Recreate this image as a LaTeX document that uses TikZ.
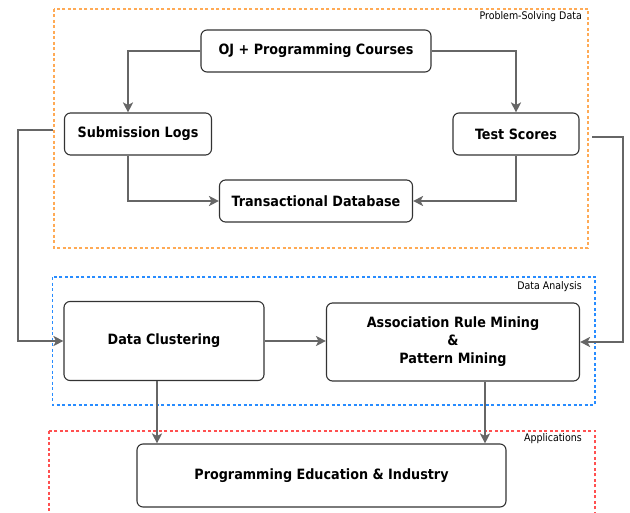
\documentclass[tikz,border=0pt]{standalone}
\usepackage{fontspec}
\setmainfont{DejaVu Sans Condensed}
\usetikzlibrary{arrows.meta,calc}
\definecolor{psdorange}{RGB}{255,170,85}
\definecolor{dablue}{RGB}{40,140,255}
\definecolor{appred}{RGB}{255,80,80}
\begin{document}
\begin{tikzpicture}[x=1bp,y=-1bp,
  box/.style={draw=black!80,line width=1.1bp,rounded corners=6bp,fill=white,
    font=\fontsize{14.2bp}{17bp}\selectfont\bfseries,align=center,inner sep=0pt},
  flow/.style={draw=black!60,line width=1.8bp,-{Stealth[length=10bp,width=10bp,inset=2.5bp]}},
  group/.style={dash pattern=on 3bp off 2.5bp,line width=1.3bp},
  grouplabel/.style={font=\fontsize{10.5bp}{12bp}\selectfont,anchor=east,inner sep=0pt}]
\useasboundingbox (0,0) rectangle (630,513);

% group frames
\draw[group,draw=psdorange] (54,9) rectangle (588,248);
\draw[group,draw=dablue] (52.5,277) rectangle (595,405);
\draw[group,draw=appred] (49,431) rectangle (595,530);
\node[grouplabel] (lblpsd) at (582,17) {Problem-Solving Data};
\node[grouplabel] (lblda) at (582,287) {Data Analysis};
\node[grouplabel] (lblapp) at (582,439) {Applications};

% process boxes
\node[box,minimum width=230bp,minimum height=42bp] (oj) at (316,51) {OJ + Programming Courses};
\node[box,minimum width=147bp,minimum height=42bp] (sl) at (138,134) {Submission Logs};
\node[box,minimum width=126bp,minimum height=42bp] (ts) at (516,134) {Test Scores};
\node[box,minimum width=193bp,minimum height=42bp] (tdb) at (316,201) {Transactional Database};
\node[box,minimum width=200bp,minimum height=79bp] (dc) at (164,341) {Data Clustering};
\node[box,minimum width=253bp,minimum height=78bp] (arm) at (453,342) {Association Rule Mining\\[1bp]\&\\[1bp]Pattern Mining};
\node[box,minimum width=369bp,minimum height=63bp] (pei) at (321.5,475.5) {Programming Education \& Industry};

% free ends of the long side connectors
\coordinate (lstart) at (53,130);
\coordinate (rstart) at (592,137);

% connectors
\draw[flow] (oj.west) -| ([xshift=-10bp]sl.north);
\draw[flow] (oj.east) -| (ts.north);
\draw[flow] ([xshift=-10bp]sl.south) |- (tdb.west);
\draw[flow] (ts.south) |- (tdb.east);
\draw[flow] (lstart) -- (18,130) |- (dc.west);
\draw[flow] (rstart) -- (623,137) |- (arm.east);
\draw[flow] (dc.east) -- (dc.east -| arm.west);
\draw[flow] ([xshift=-7bp]dc.south) -- ([xshift=-7bp]dc.south |- pei.north);
\draw[flow] ([xshift=32bp]arm.south) -- ([xshift=32bp]arm.south |- pei.north);
\end{tikzpicture}
\end{document}
